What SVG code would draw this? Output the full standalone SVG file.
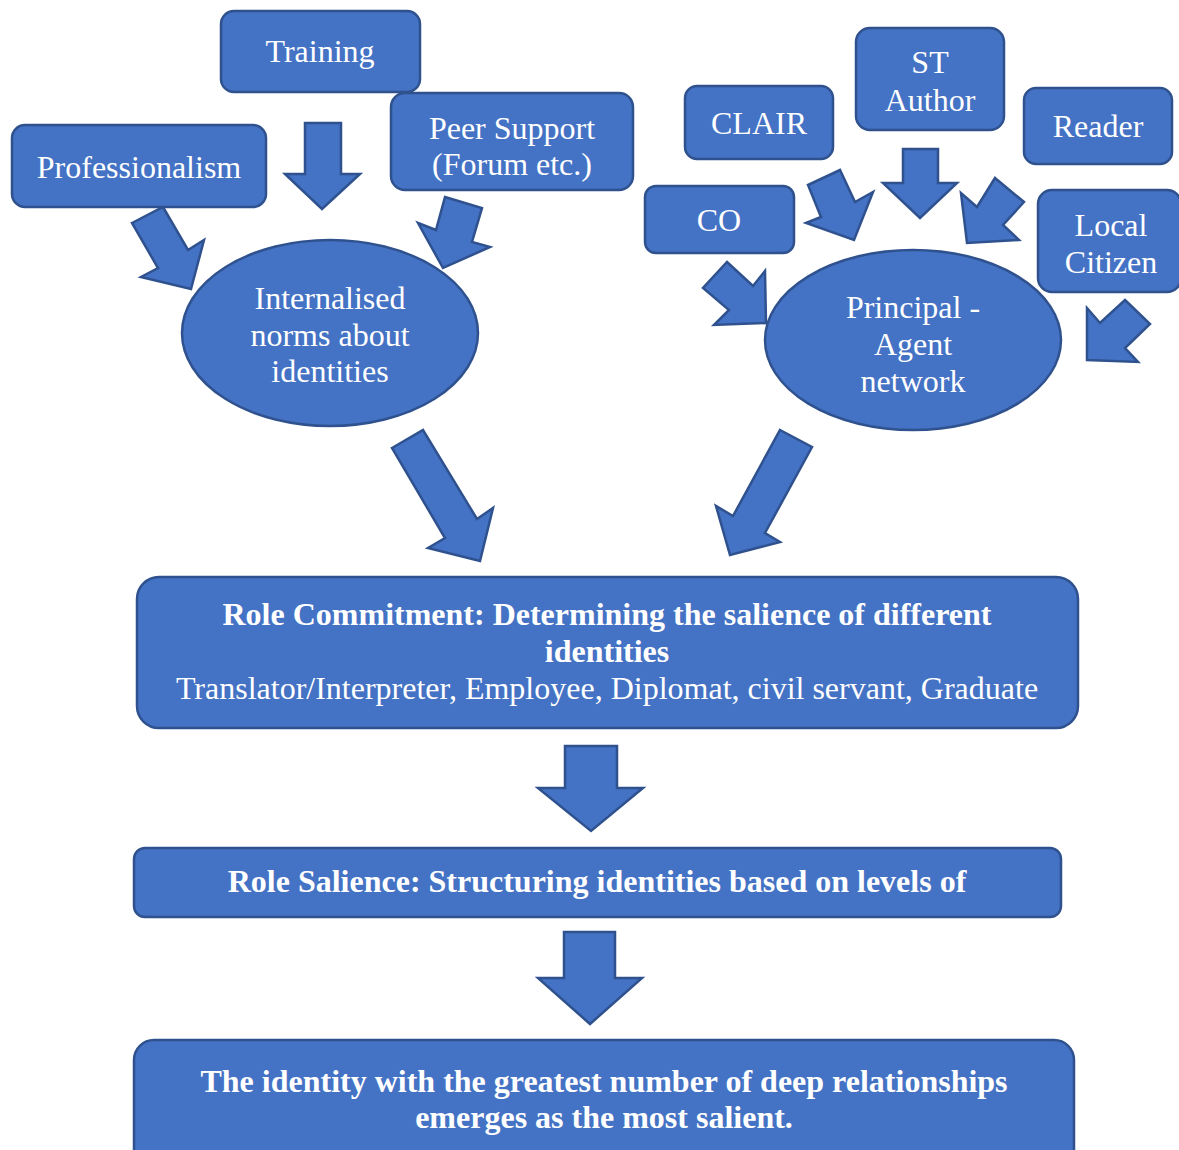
<svg xmlns="http://www.w3.org/2000/svg" width="1179" height="1150" viewBox="0 0 1179 1150">
<style>
.box{fill:#4472C4;stroke:#2F528F;stroke-width:2.5}
.arr{fill:#4472C4;stroke:#2F528F;stroke-width:2.5;stroke-linejoin:miter}
text{font-family:"Liberation Serif","Times New Roman",serif;font-size:32px;fill:#fff;text-anchor:middle}
.b{font-weight:bold}
</style>
<rect width="1179" height="1150" fill="#fff"/>
<g id="connectors">
<polygon class="arr" points="305,123 341,123 341,174 360,174 322,209 285,174 305,174"/>
<polygon class="arr" points="132,223 163,207 188,250 204,240 191,289 141,277 158,268"/>
<polygon class="arr" points="445,197 482,208 472,242 490,247 443,268 418,223 436,230"/>
<polygon class="arr" points="808,185 840,170 855,202 873,192 854,240 806,223 821,217"/>
<polygon class="arr" points="903,149 938,149 938,183 957,183 920,218 883,183 903,183"/>
<polygon class="arr" points="995,178 1024,202 1003,225 1019,240 967,243 961,193 977,207"/>
<polygon class="arr" points="727,262 753,286 765,271 766,323 714,325 729,310 703,288"/>
<polygon class="arr" points="1125,300 1150,324 1125,348 1138,362 1087,360 1087,308 1100,323"/>
<polygon class="arr" points="392,448 423,430 477,519 493,508 480,561 428,548 445,538"/>
<polygon class="arr" points="780,430 812,447 765,533 780,542 730,555 716,506 733,516"/>
<polygon class="arr" points="565,746 617,746 617,788 643,788 591,831 538,788 565,788"/>
<polygon class="arr" points="564,932 615,932 615,978 642,978 590,1024 538,978 564,978"/>
</g>
<g id="training"><rect class="box" x="221" y="11" width="199" height="81" rx="13"/><text x="320" y="62">Training</text></g>
<g id="professionalism"><rect class="box" x="12" y="125" width="254" height="82" rx="13"/><text x="139" y="178">Professionalism</text></g>
<g id="peer-support"><rect class="box" x="391" y="93" width="242" height="97" rx="14"/><text x="512" y="139">Peer Support</text><text x="512" y="175">(Forum etc.)</text></g>
<g id="internalised"><ellipse class="box" cx="330" cy="333" rx="148" ry="93"/><text x="330" y="309">Internalised</text><text x="330" y="346">norms about</text><text x="330" y="382">identities</text></g>
<g id="clair"><rect class="box" x="685" y="86" width="148" height="73" rx="12"/><text x="759" y="134">CLAIR</text></g>
<g id="st-author"><rect class="box" x="856" y="28" width="148" height="102" rx="14"/><text x="930" y="73">ST</text><text x="930" y="111">Author</text></g>
<g id="reader"><rect class="box" x="1024" y="88" width="148" height="76" rx="12"/><text x="1098" y="137">Reader</text></g>
<g id="co"><rect class="box" x="645" y="186" width="149" height="67" rx="11"/><text x="719" y="231">CO</text></g>
<g id="local-citizen"><rect class="box" x="1038" y="190" width="143" height="102" rx="14"/><text x="1111" y="236">Local</text><text x="1111" y="273">Citizen</text></g>
<g id="principal-agent"><ellipse class="box" cx="913" cy="340" rx="148" ry="90"/><text x="913" y="318">Principal -</text><text x="913" y="355">Agent</text><text x="913" y="392">network</text></g>
<g id="role-commitment"><rect class="box" x="137" y="577" width="941" height="151" rx="22"/><text class="b" x="607" y="625">Role Commitment: Determining the salience of different</text><text class="b" x="607" y="662">identities</text><text x="607" y="699">Translator/Interpreter, Employee, Diplomat, civil servant, Graduate</text></g>
<g id="role-salience"><rect class="box" x="134" y="848" width="927" height="69" rx="11"/><text class="b" x="597" y="892">Role Salience: Structuring identities based on levels of</text></g>
<g id="most-salient"><rect class="box" x="134" y="1040" width="940" height="130" rx="20"/><text class="b" x="604" y="1092">The identity with the greatest number of deep relationships</text><text class="b" x="604" y="1128">emerges as the most salient.</text></g>
</svg>
